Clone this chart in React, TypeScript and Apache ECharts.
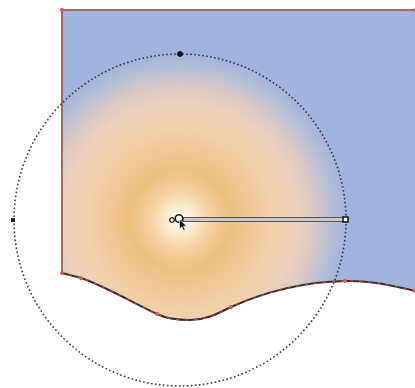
import React, { useEffect, useRef } from "react";
import * as echarts from "echarts";

// Shape outline (editor canvas coordinates)
const SHAPE_PATH =
  "M62,10 L415,10 L415,291 C400,287 370,280 345,281 C300,282 260,294 231,307 C215,315 205,320 190,320 C175,320 165,318 157,314 C130,301 100,284 81,278 L62,273 Z";
const BOTTOM_PATH =
  "M415,291 C400,287 370,280 345,281 C300,282 260,294 231,307 C215,315 205,320 190,320 C175,320 165,318 157,314 C130,301 100,284 81,278 L62,273";
const SIDE_PATH = "M62,273 L62,10 L415,10";

// Anchor nodes of the path
const ANCHORS: [number, number][] = [
  [62, 10],
  [415, 10],
  [415, 291],
  [345, 281],
  [231, 307],
  [157, 314],
  [81, 278],
  [62, 273],
];

// Radial gradient: center, radius, stops
const GRAD_CENTER: [number, number] = [180, 220];
const GRAD_RADIUS = 166;
const GRAD_OFFSETS = [0, 0.08, 0.18, 0.3, 0.42, 0.58, 0.7, 0.8, 0.9, 1];
const GRAD_COLORS = [
  "#fffcf3",
  "#fcecd2",
  "#f5d1a0",
  "#eebf80",
  "#f0c794",
  "#f1d1ad",
  "#ecd0bb",
  "#dccac4",
  "#bcc0d4",
  "#a0b5de",
];

export default function App() {
  const ref = useRef<HTMLDivElement>(null);
  useEffect(() => {
    if (!ref.current) return;
    echarts.graphic.registerShape("blob", echarts.graphic.extendPath(SHAPE_PATH, {}) as any);
    echarts.graphic.registerShape("blobBottom", echarts.graphic.extendPath(BOTTOM_PATH, {}) as any);
    echarts.graphic.registerShape("blobSide", echarts.graphic.extendPath(SIDE_PATH, {}) as any);
    const chart = echarts.init(ref.current, null, { renderer: "svg" });
    const [cx, cy] = GRAD_CENTER;
    const fill = {
      type: "radial",
      x: cx,
      y: cy,
      r: GRAD_RADIUS,
      global: true,
      colorStops: GRAD_OFFSETS.map((o, i) => ({ offset: o, color: GRAD_COLORS[i] })),
    };
    const elements: any[] = [
      { type: "rect", shape: { x: 0, y: 0, width: 415, height: 388 }, style: { fill: "#ffffff" }, z: 0 },
      { type: "blob", x: 0, y: 0, style: { fill, stroke: "none" }, z: 1 },
      { type: "blobSide", x: 0, y: 0, style: { fill: "none", stroke: "#a06a6a", lineWidth: 2 }, z: 2 },
      { type: "blobBottom", x: 0, y: 0, style: { fill: "none", stroke: "#3d2c2c", lineWidth: 2 }, z: 2 },
      {
        type: "blobBottom",
        x: 0,
        y: 0,
        style: { fill: "none", stroke: "#d05050", lineWidth: 1, lineDash: [3, 6] },
        z: 3,
      },
      ...ANCHORS.map(([x, y]) => ({
        type: "circle",
        shape: { cx: x, cy: y, r: 2 },
        style: { fill: "#e2564f" },
        z: 4,
      })),
      {
        type: "circle",
        shape: { cx, cy, r: GRAD_RADIUS },
        style: { fill: "none", stroke: "#3a3a3a", lineWidth: 1.6, lineDash: [1.6, 2.4] },
        z: 5,
      },
      // gradient bar
      {
        type: "rect",
        shape: { x: 183, y: 217.5, width: 162, height: 4 },
        style: { fill: "#c9c9c9", stroke: "#555555", lineWidth: 1 },
        z: 6,
      },
      // handles
      { type: "circle", shape: { cx: 180, cy: 54, r: 3 }, style: { fill: "#111111" }, z: 7 },
      { type: "rect", shape: { x: 11, y: 218, width: 4, height: 4 }, style: { fill: "#222222" }, z: 7 },
      {
        type: "rect",
        shape: { x: 343, y: 217, width: 5, height: 5 },
        style: { fill: "#ffffff", stroke: "#111111", lineWidth: 1.5 },
        z: 7,
      },
      {
        type: "circle",
        shape: { cx: 172, cy: 220, r: 2.3 },
        style: { fill: "#ffffff", stroke: "#111111", lineWidth: 1.3 },
        z: 7,
      },
      {
        type: "circle",
        shape: { cx: 179, cy: 218.5, r: 3.8 },
        style: { fill: "none", stroke: "#111111", lineWidth: 1.5 },
        z: 7,
      },
      // cursor arrow
      {
        type: "polygon",
        shape: {
          points: [
            [179.5, 219],
            [179.5, 229],
            [181.8, 226.8],
            [183.6, 230.8],
            [185.2, 230.1],
            [183.4, 226.3],
            [186.5, 226.2],
          ],
        },
        style: { fill: "#111111", stroke: "#ffffff", lineWidth: 0.6 },
        z: 8,
      },
    ];
    chart.setOption({ animation: false, graphic: { elements } });
    return () => chart.dispose();
  }, []);
  return (
    <div
      ref={ref}
      style={{ position: "absolute", left: 0, top: 0, width: 415, height: 388 }}
    />
  );
}
